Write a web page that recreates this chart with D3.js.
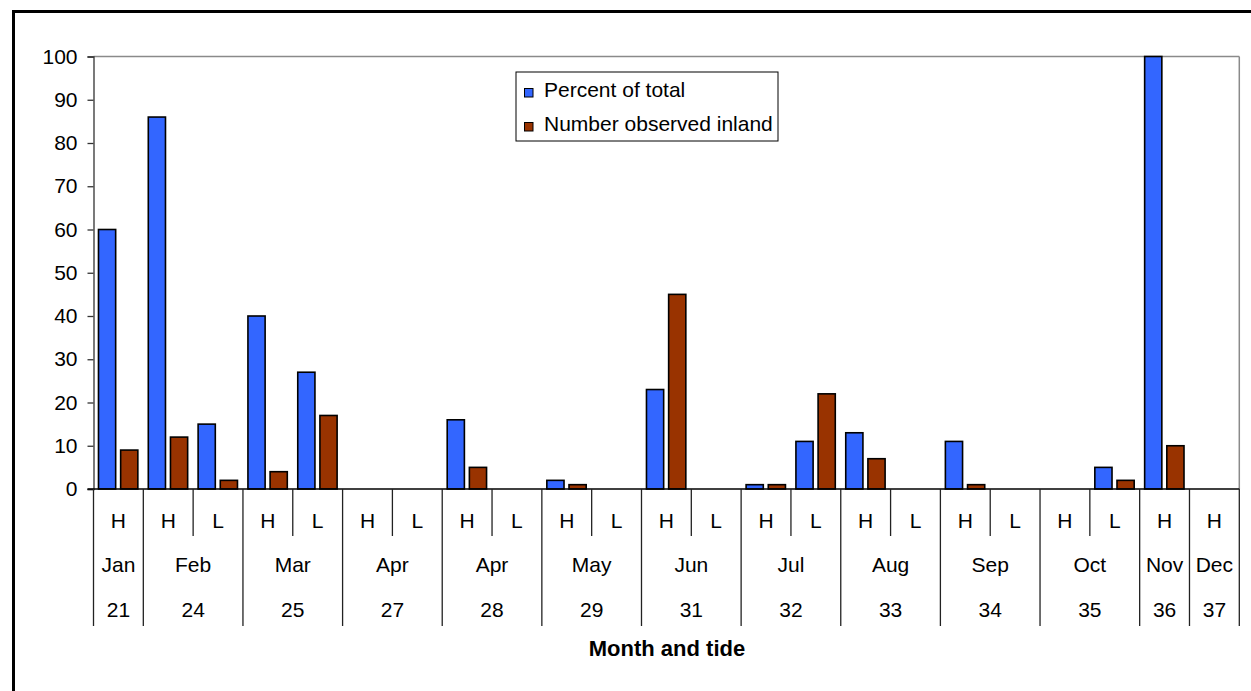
<!DOCTYPE html>
<html>
<head>
<meta charset="utf-8">
<script src="https://cdn.jsdelivr.net/npm/d3@7"></script>
<style>
  html, body { margin: 0; padding: 0; background: #fff; }
  svg { display: block; font-family: "Liberation Sans", Arial, sans-serif; }
</style>
</head>
<body>
<svg id="chart" width="1251" height="691"></svg>
<script>
// ---- data ----
const tides = ["H","H","L","H","L","H","L","H","L","H","L","H","L","H","L","H","L","H","L","H","L","H","H"];
const percentOfTotal = [60, 86, 15, 40, 27, 0, 0, 16, 0, 2, 0, 23, 0, 1, 11, 13, 0, 11, 0, 0, 5, 100, 0];
const numberInland   = [9, 12, 2, 4, 17, 0, 0, 5, 0, 1, 0, 45, 0, 1, 22, 7, 0, 1, 0, 0, 2, 10, 0];
const months      = ["Jan","Feb","Mar","Apr","Apr","May","Jun","Jul","Aug","Sep","Oct","Nov","Dec"];
const weeks       = ["21","24","25","27","28","29","31","32","33","34","35","36","37"];
const monthSpans  = [1, 2, 2, 2, 2, 2, 2, 2, 2, 2, 2, 1, 1];
const seriesNames = ["Percent of total", "Number observed inland"];
const seriesColors = ["#3366FF", "#993300"];
const yTicks = [0,10,20,30,40,50,60,70,80,90,100];

// ---- layout ----
const FS = 21;
const svg = d3.select("#chart");
const plotLeft = 93.5, plotRight = 1239.3, plotTop = 56.5, plotBottom = 489;

const x = d3.scaleBand().domain(d3.range(tides.length)).range([plotLeft, plotRight]).padding(0);
const y = d3.scaleLinear().domain([0, 100]).range([plotBottom, plotTop]);
const step = x.bandwidth();
const barW = step * 0.345;
const offsets = [step * 0.1, step * 0.1 + barW + step * 0.1];

// outer frame (left & top only visible)
svg.append("line").attr("x1", 13.5).attr("x2", 13.5).attr("y1", 11.5).attr("y2", 691)
  .attr("stroke", "#000").attr("stroke-width", 3);
svg.append("line").attr("x1", 12).attr("x2", 1251).attr("y1", 11.5).attr("y2", 11.5)
  .attr("stroke", "#000").attr("stroke-width", 3);

// plot area border (top & right gray)
svg.append("line").attr("x1", plotLeft).attr("x2", plotRight).attr("y1", plotTop).attr("y2", plotTop)
  .attr("stroke", "#8a8a8a").attr("stroke-width", 1.5);
svg.append("line").attr("x1", plotRight).attr("x2", plotRight).attr("y1", plotTop).attr("y2", plotBottom)
  .attr("stroke", "#8a8a8a").attr("stroke-width", 1.5);

// y axis
const yAxis = d3.axisLeft(y).tickValues(yTicks).tickSize(6).tickPadding(10);
const yg = svg.append("g").attr("transform", `translate(${plotLeft},0)`).call(yAxis);
yg.select(".domain").attr("stroke", "#333").attr("stroke-width", 1.3);
yg.selectAll(".tick line").attr("stroke", "#333").attr("stroke-width", 1.3);
yg.selectAll(".tick text").attr("font-size", FS).attr("fill", "#000")
  .attr("font-family", "Liberation Sans, Arial, sans-serif");

// bars
const seriesData = [percentOfTotal, numberInland];
seriesData.forEach((vals, si) => {
  svg.append("g").selectAll("rect").data(vals).join("rect")
    .attr("x", (d, i) => x(i) + offsets[si])
    .attr("y", d => y(d))
    .attr("width", barW)
    .attr("height", d => y(0) - y(d))
    .attr("fill", seriesColors[si])
    .attr("stroke", d => d > 0 ? "#000" : "none")
    .attr("stroke-width", 1.6);
});

// zero line
svg.append("line").attr("x1", plotLeft - 6).attr("x2", plotRight).attr("y1", y(0)).attr("y2", y(0))
  .attr("stroke", "#000").attr("stroke-width", 1.5);

// category axis
const rowTide = 520.5, rowMonth = 564.5, rowWeek = 609.5;
const tideDividerBottom = 536, monthDividerBottom = 626;

const catG = svg.append("g");
catG.selectAll("text.tide").data(tides).join("text")
  .attr("class", "tide")
  .attr("x", (d, i) => x(i) + step / 2)
  .attr("y", rowTide).attr("dy", "0.35em")
  .attr("text-anchor", "middle").attr("font-size", FS).text(d => d);

const starts = [];
let acc = 0;
monthSpans.forEach(s => { starts.push(acc); acc += s; });
const monthBoundaries = new Set(starts.concat([tides.length]));

d3.range(tides.length + 1).forEach(i => {
  const xx = i < tides.length ? x(i) : plotRight;
  const isMonth = monthBoundaries.has(i);
  catG.append("line")
    .attr("x1", xx).attr("x2", xx)
    .attr("y1", plotBottom).attr("y2", isMonth ? monthDividerBottom : tideDividerBottom)
    .attr("stroke", "#222").attr("stroke-width", 1.3);
});

catG.selectAll("text.month").data(months).join("text")
  .attr("class", "month")
  .attr("x", (d, i) => x(starts[i]) + step * monthSpans[i] / 2)
  .attr("y", rowMonth).attr("dy", "0.35em")
  .attr("text-anchor", "middle").attr("font-size", FS).text(d => d);

catG.selectAll("text.week").data(weeks).join("text")
  .attr("class", "week")
  .attr("x", (d, i) => x(starts[i]) + step * monthSpans[i] / 2)
  .attr("y", rowWeek).attr("dy", "0.35em")
  .attr("text-anchor", "middle").attr("font-size", FS).text(d => d);

// axis title
svg.append("text").attr("x", 667).attr("y", 648.5).attr("dy", "0.35em")
  .attr("text-anchor", "middle").attr("font-size", 22).attr("font-weight", "bold")
  .text("Month and tide");

// legend
const lg = svg.append("g");
lg.append("rect").attr("x", 516).attr("y", 72).attr("width", 262).attr("height", 69)
  .attr("fill", "#fff").attr("stroke", "#000").attr("stroke-width", 1);
seriesNames.forEach((name, i) => {
  const by = 97 + i * 34;
  lg.append("rect").attr("x", 524.5).attr("y", by - 8.5).attr("width", 8.5).attr("height", 8.5)
    .attr("fill", seriesColors[i]).attr("stroke", "#000").attr("stroke-width", 1);
  lg.append("text").attr("x", 544).attr("y", by).attr("font-size", FS).text(name);
});
</script>
</body>
</html>
